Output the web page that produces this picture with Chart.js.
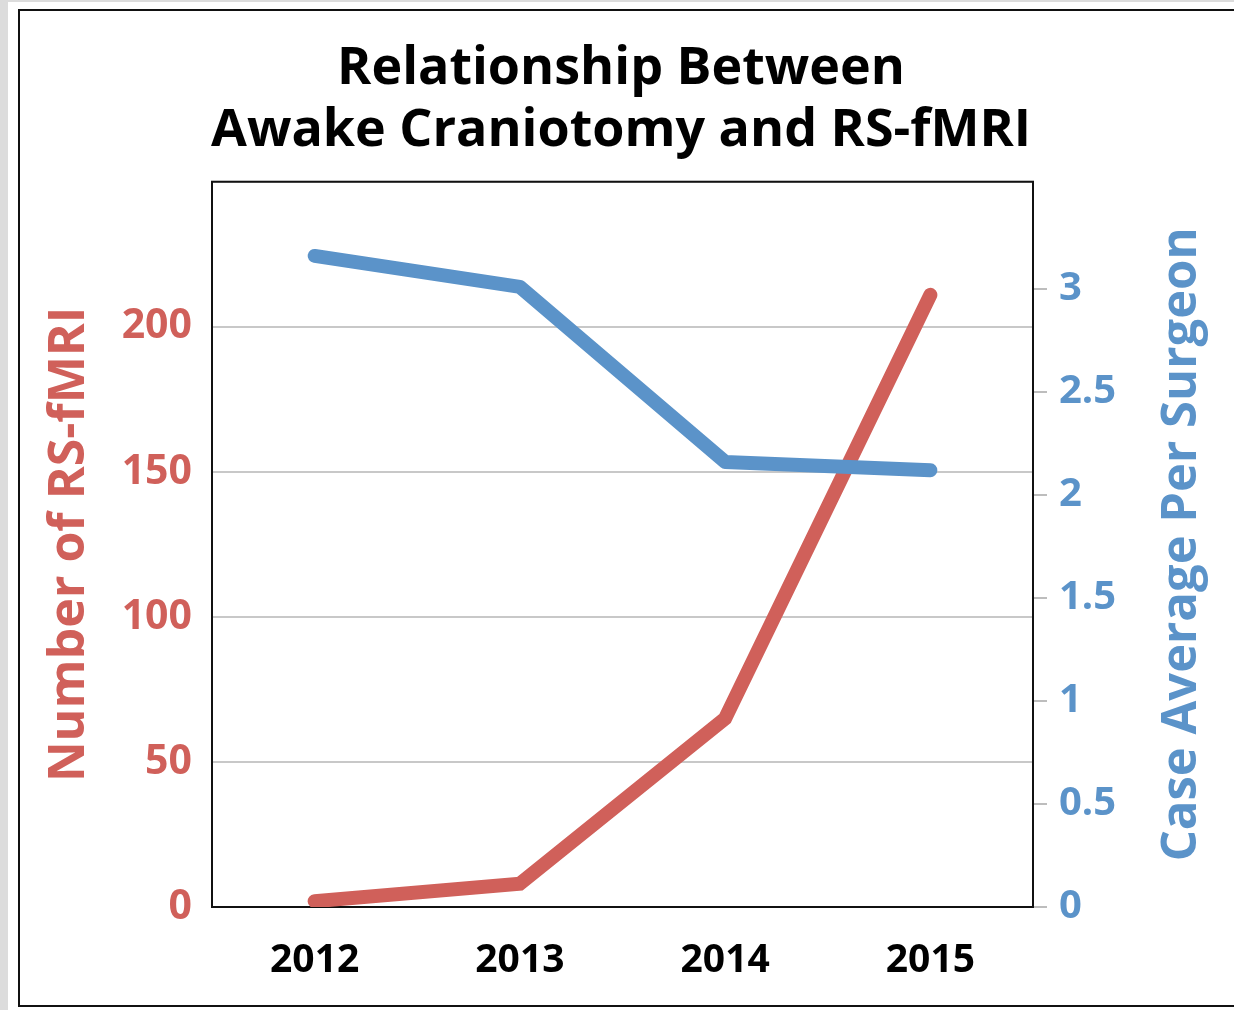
<!DOCTYPE html>
<html>
<head>
<meta charset="utf-8">
<script src="https://cdn.jsdelivr.net/npm/chart.js@4"></script>
<style>
  body { margin: 0; background: #dcdcdc; overflow: hidden; }
  .sheet { position: absolute; left: 8px; top: 2px; width: 1300px; height: 1100px; background: #fff; }
  .frame { position: absolute; left: 10px; top: 7px; width: 1260px; height: 994px; border: 2px solid #111; }
  #chart { position: absolute; left: 0; top: 0; }
</style>
</head>
<body>
<div class="sheet">
  <div class="frame">
    <canvas id="chart" width="1202" height="993"></canvas>
  </div>
</div>
<script>
// chart data
const years = ['2012', '2013', '2014', '2015'];
const rsfmriCounts = [2, 8, 65, 211];
const caseAverage = [3.16, 3.01, 2.16, 2.12];

const red = '#d0605a';
const blue = '#5b93c9';
const font = "'Open Sans', 'DejaVu Sans', sans-serif";

// box round the plot area, drawn under the lines
const plotFrame = {
    id: 'plotFrame',
    beforeDatasetsDraw(chart) {
        const a = chart.chartArea;
        const ctx = chart.ctx;
        ctx.save();
        ctx.strokeStyle = '#111';
        ctx.lineWidth = 2;
        ctx.strokeRect(a.left, a.top, a.right - a.left, a.bottom - a.top);
        ctx.restore();
    }
};

// right axis title reads bottom to top
const rightTitle = {
    id: 'rightTitle',
    afterDraw(chart) {
        const a = chart.chartArea;
        const ctx = chart.ctx;
        ctx.save();
        ctx.translate(1162, (a.top + a.bottom) / 2);
        ctx.rotate(-Math.PI / 2);
        ctx.font = 'bold 49px ' + font;
        ctx.fillStyle = blue;
        ctx.textAlign = 'center';
        ctx.textBaseline = 'middle';
        ctx.fillText('Case Average Per Surgeon', 0, 0);
        ctx.restore();
    }
};

new Chart(document.getElementById('chart'), {
    type: 'line',
    data: {
        labels: years,
        datasets: [
            {
                label: 'Number of RS-fMRI',
                data: rsfmriCounts,
                yAxisID: 'y',
                borderColor: red,
                backgroundColor: red,
                borderWidth: 14,
                borderCapStyle: 'round',
                pointRadius: 0,
                tension: 0,
                order: 2
            },
            {
                label: 'Case Average Per Surgeon',
                data: caseAverage,
                yAxisID: 'y1',
                borderColor: blue,
                backgroundColor: blue,
                borderWidth: 14,
                borderCapStyle: 'round',
                borderJoinStyle: 'round',
                pointRadius: 0,
                tension: 0,
                order: 1
            }
        ]
    },
    options: {
        responsive: false,
        animation: false,
        devicePixelRatio: 1,
        layout: { padding: 0 },
        plugins: {
            legend: { display: false },
            tooltip: { enabled: false },
            title: {
                display: true,
                text: ['Relationship Between', 'Awake Craniotomy and RS-fMRI'],
                color: '#000',
                font: { family: font, size: 52, weight: 'bold', lineHeight: 1.18 },
                padding: { top: 28, bottom: 20 }
            }
        },
        scales: {
            x: {
                offset: true,
                grid: { display: false, drawTicks: false },
                border: { display: false },
                ticks: {
                    color: '#000',
                    padding: 30,
                    font: { family: font, size: 39, weight: 'bold' }
                },
                afterFit(scale) { scale.height = 97; }
            },
            y: {
                position: 'left',
                min: 0,
                max: 250,
                ticks: {
                    stepSize: 50,
                    color: red,
                    padding: 20,
                    font: { family: font, size: 41, weight: 'bold' },
                    callback: (v) => v > 200 ? '' : v
                },
                grid: { color: '#c8c8c8', lineWidth: 2, drawTicks: false },
                border: { display: false },
                title: {
                    display: true,
                    text: 'Number of RS-fMRI',
                    color: red,
                    font: { family: font, size: 50, weight: 'bold' },
                    padding: { top: 20, bottom: 0 }
                },
                afterFit(scale) { scale.width = 192; }
            },
            y1: {
                position: 'right',
                min: 0,
                max: 3.52,
                ticks: {
                    stepSize: 0.5,
                    color: blue,
                    padding: 12,
                    font: { family: font, size: 40, weight: 'bold' },
                    callback: (v) => v > 3 ? '' : v
                },
                grid: {
                    drawOnChartArea: false,
                    tickLength: 14,
                    lineWidth: 2,
                    tickColor: (c) => c.tick && c.tick.value > 3 ? 'rgba(0,0,0,0)' : '#bdbdbd'
                },
                border: { display: false },
                afterFit(scale) { scale.width = 189; }
            }
        }
    },
    plugins: [plotFrame, rightTitle]
});
</script>
</body>
</html>
